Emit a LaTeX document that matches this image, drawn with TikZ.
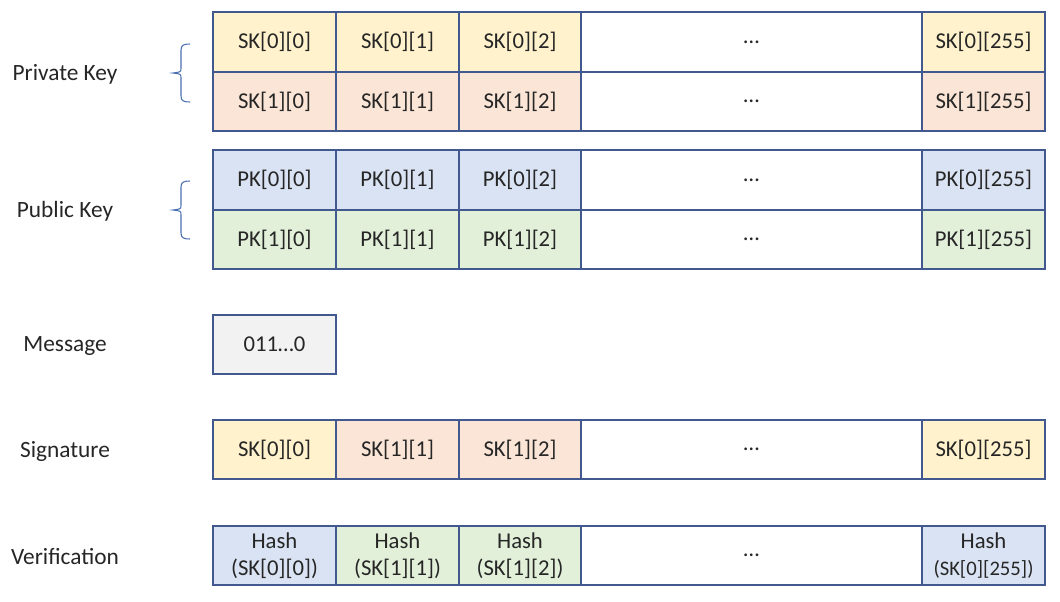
\documentclass[tikz,border=0pt]{standalone}
\usepackage{fontspec}
\setmainfont{Carlito}
\definecolor{edge}{HTML}{41598E}
\definecolor{bracecol}{HTML}{4A6FB0}
\definecolor{ink}{HTML}{262626}
\definecolor{fyel}{HTML}{FFF2CC}
\definecolor{fpch}{HTML}{FBE5D6}
\definecolor{fblu}{HTML}{DAE3F3}
\definecolor{fgrn}{HTML}{E2F0D9}
\definecolor{fgry}{HTML}{F2F2F2}
\tikzset{
  cell/.style={draw=edge, line width=0.9pt, rectangle, inner sep=0pt, text=ink,
    font=\fontsize{17}{20}\selectfont, align=center},
  rowlabel/.style={text=ink, font=\fontsize{17.5}{21}\selectfont},
  bracepath/.style={draw=bracecol, line width=0.8pt},
}
% \cell{name}{x1}{x2}{y1}{y2}{fill}{text}
\newcommand\cell[7]{%
  \node[cell, fill=#6, minimum width={(#3-#2)*0.75pt}, minimum height={(#5-#4)*0.75pt}]
    (#1) at ({(#2+#3)/2},{(#4+#5)/2}) {#7};}
% curly brace opening to the right: x of hook end, top y, bottom y
\newcommand\rowbrace[3]{%
  \draw[bracepath] (#1,#2) .. controls ({#1-6},#2) and ({#1-9},{#2+1}) .. ({#1-9},{#2+6})
    -- ({#1-9},{(#2+#3)/2-5}) .. controls ({#1-9},{(#2+#3)/2-1}) .. ({#1-17},{(#2+#3)/2})
    .. controls ({#1-9},{(#2+#3)/2+1}) .. ({#1-9},{(#2+#3)/2+5})
    -- ({#1-9},{#3-6}) .. controls ({#1-9},{#3-1}) and ({#1-6},#3) .. (#1,#3);}
\begin{document}
\begin{tikzpicture}[x=0.75pt,y=-0.75pt]
\useasboundingbox (0,0) rectangle (1060,601);

% row labels
\node[rowlabel] (lpriv) at (65,74) {Private Key};
\node[rowlabel] (lpub)  at (65,211) {Public Key};
\node[rowlabel] (lmsg)  at (65,346) {Message};
\node[rowlabel] (lsig)  at (65,451) {Signature};
\node[rowlabel] (lver)  at (65,557) {Verification};

% braces
\rowbrace{190}{44}{102}
\rowbrace{190}{181}{239}

% private key
\cell{sk00}{213}{336}{12}{72}{fyel}{SK[0][0]}
\cell{sk01}{336}{459}{12}{72}{fyel}{SK[0][1]}
\cell{sk02}{459}{581}{12}{72}{fyel}{SK[0][2]}
\cell{sk0d}{581}{922}{12}{72}{white}{…}
\cell{sk0l}{922}{1045}{12}{72}{fyel}{SK[0][255]}
\cell{sk10}{213}{336}{72}{131}{fpch}{SK[1][0]}
\cell{sk11}{336}{459}{72}{131}{fpch}{SK[1][1]}
\cell{sk12}{459}{581}{72}{131}{fpch}{SK[1][2]}
\cell{sk1d}{581}{922}{72}{131}{white}{…}
\cell{sk1l}{922}{1045}{72}{131}{fpch}{SK[1][255]}

% public key
\cell{pk00}{213}{336}{150}{210}{fblu}{PK[0][0]}
\cell{pk01}{336}{459}{150}{210}{fblu}{PK[0][1]}
\cell{pk02}{459}{581}{150}{210}{fblu}{PK[0][2]}
\cell{pk0d}{581}{922}{150}{210}{white}{…}
\cell{pk0l}{922}{1045}{150}{210}{fblu}{PK[0][255]}
\cell{pk10}{213}{336}{210}{269}{fgrn}{PK[1][0]}
\cell{pk11}{336}{459}{210}{269}{fgrn}{PK[1][1]}
\cell{pk12}{459}{581}{210}{269}{fgrn}{PK[1][2]}
\cell{pk1d}{581}{922}{210}{269}{white}{…}
\cell{pk1l}{922}{1045}{210}{269}{fgrn}{PK[1][255]}

% message
\cell{msg}{213}{336}{315}{374}{fgry}{011…0}

% signature
\cell{sig0}{213}{336}{420}{479}{fyel}{SK[0][0]}
\cell{sig1}{336}{459}{420}{479}{fpch}{SK[1][1]}
\cell{sig2}{459}{581}{420}{479}{fpch}{SK[1][2]}
\cell{sigd}{581}{922}{420}{479}{white}{…}
\cell{sigl}{922}{1045}{420}{479}{fyel}{SK[0][255]}

% verification
\cell{ver0}{213}{336}{526}{585}{fblu}{Hash\\(SK[0][0])}
\cell{ver1}{336}{459}{526}{585}{fgrn}{Hash\\(SK[1][1])}
\cell{ver2}{459}{581}{526}{585}{fgrn}{Hash\\(SK[1][2])}
\cell{verd}{581}{922}{526}{585}{white}{…}
\cell{verl}{922}{1045}{526}{585}{fblu}{Hash\\{\fontsize{15.5}{20}\selectfont(SK[0][255])}}
\end{tikzpicture}
\end{document}
